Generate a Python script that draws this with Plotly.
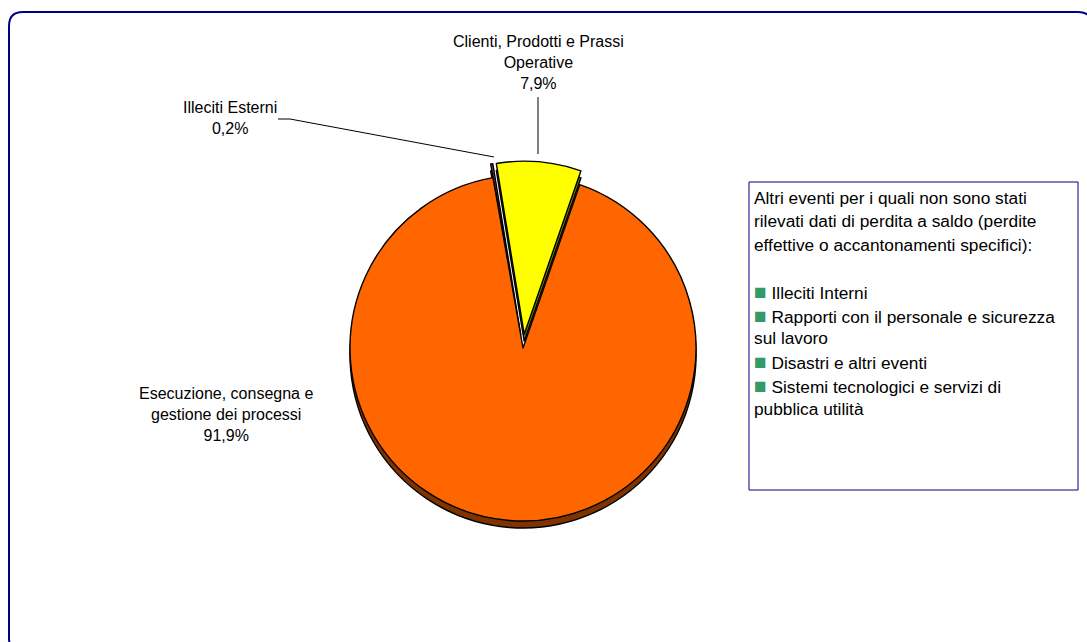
import plotly.graph_objects as go

# Operational-loss split by event type (share of net losses, %)
categories = [
    "Illeciti Esterni",
    "Clienti, Prodotti e Prassi Operative",
    "Esecuzione, consegna e gestione dei processi",
]
shares = [0.2, 7.9, 91.9]
top_colors = ["#993366", "#FFFF00", "#FF6600"]
side_colors = ["#4D1A33", "#808000", "#7F3300"]
pulls = [0.08, 0.08, 0.0]

# Event types with no net losses recorded
box_intro = [
    "Altri eventi per i quali non sono stati",
    "rilevati dati di perdita a saldo (perdite",
    "effettive o accantonamenti specifici):",
]
other_events = [
    ["Illeciti Interni"],
    ["Rapporti con il personale e sicurezza", "sul lavoro"],
    ["Disastri e altri eventi"],
    ["Sistemi tecnologici e servizi di", "pubblica utilità"],
]

W, H = 1087, 642


def fx(x):
    return x / W


def fy(y):
    return 1 - y / H


def pct(v):
    return f"{v:.1f}".replace(".", ",") + "%"


# pie geometry (pixels)
cx, cy, R, depth = 523, 348, 173, 7
box = R * (1 + max(pulls))


def pie(colors, dy):
    return go.Pie(
        labels=categories,
        values=shares,
        sort=False,
        direction="clockwise",
        rotation=-10,
        pull=pulls,
        textinfo="none",
        hoverinfo="label+percent",
        showlegend=False,
        marker=dict(colors=colors, line=dict(color="#000000", width=1.4)),
        domain=dict(
            x=[fx(cx - box), fx(cx + box)],
            y=[fy(cy + dy + box), fy(cy + dy - box)],
        ),
    )


fig = go.Figure([pie(side_colors, depth), pie(top_colors, 0)])

font = dict(family="Liberation Sans, Arial, sans-serif", size=16, color="#000000")
annotations = [
    dict(x=fx(538), y=fy(63), text="Clienti, Prodotti e Prassi<br>Operative<br>" + pct(shares[1])),
    dict(x=fx(230), y=fy(118), text="Illeciti Esterni<br>" + pct(shares[0])),
    dict(x=fx(226), y=fy(414), text="Esecuzione, consegna e<br>gestione dei processi<br>" + pct(shares[2])),
]
for a in annotations:
    a.update(xref="paper", yref="paper", showarrow=False, align="center",
             xanchor="center", yanchor="middle", font=font)

# text box: one annotation per line for even spacing
sq = '<span style="color:#339966;font-size:21px">■</span> '
box_lines = list(box_intro) + [""]
for ev in other_events:
    box_lines.append(sq + ev[0])
    box_lines.extend(ev[1:])
box_font = dict(family="Liberation Sans, Arial, sans-serif", size=17.3, color="#000000")
line_y, step = 198, 23.4
for i, line in enumerate(box_lines):
    if line:
        annotations.append(dict(
            x=fx(752), y=fy(line_y + i * step), xref="paper", yref="paper",
            showarrow=False, xanchor="left", yanchor="middle", align="left",
            text=line, font=box_font,
        ))

# rounded outer frame
x0, y0, x1, y1, r = 9, 12, 1092, 652, 14
frame = (
    f"M {fx(x0 + r)},{fy(y0)} L {fx(x1 - r)},{fy(y0)} "
    f"Q {fx(x1)},{fy(y0)} {fx(x1)},{fy(y0 + r)} L {fx(x1)},{fy(y1 - r)} "
    f"Q {fx(x1)},{fy(y1)} {fx(x1 - r)},{fy(y1)} L {fx(x0 + r)},{fy(y1)} "
    f"Q {fx(x0)},{fy(y1)} {fx(x0)},{fy(y1 - r)} L {fx(x0)},{fy(y0 + r)} "
    f"Q {fx(x0)},{fy(y0)} {fx(x0 + r)},{fy(y0)} Z"
)

shapes = [
    dict(type="path", path=frame, xref="paper", yref="paper",
         line=dict(color="#000080", width=2)),
    dict(type="rect", x0=fx(749), x1=fx(1078), y0=fy(182), y1=fy(490),
         xref="paper", yref="paper", line=dict(color="#000080", width=1)),
    # leader lines
    dict(type="line", x0=fx(538), y0=fy(97), x1=fx(538), y1=fy(154),
         xref="paper", yref="paper", line=dict(color="#000000", width=1)),
    dict(type="line", x0=fx(278), y0=fy(119), x1=fx(290), y1=fy(119),
         xref="paper", yref="paper", line=dict(color="#000000", width=1)),
    dict(type="line", x0=fx(290), y0=fy(119), x1=fx(494), y1=fy(157),
         xref="paper", yref="paper", line=dict(color="#000000", width=1)),
]

fig.update_layout(
    width=W, height=H,
    margin=dict(l=0, r=0, t=0, b=0),
    paper_bgcolor="#FFFFFF",
    plot_bgcolor="#FFFFFF",
    annotations=annotations,
    shapes=shapes,
)

fig.write_html("out.html")
